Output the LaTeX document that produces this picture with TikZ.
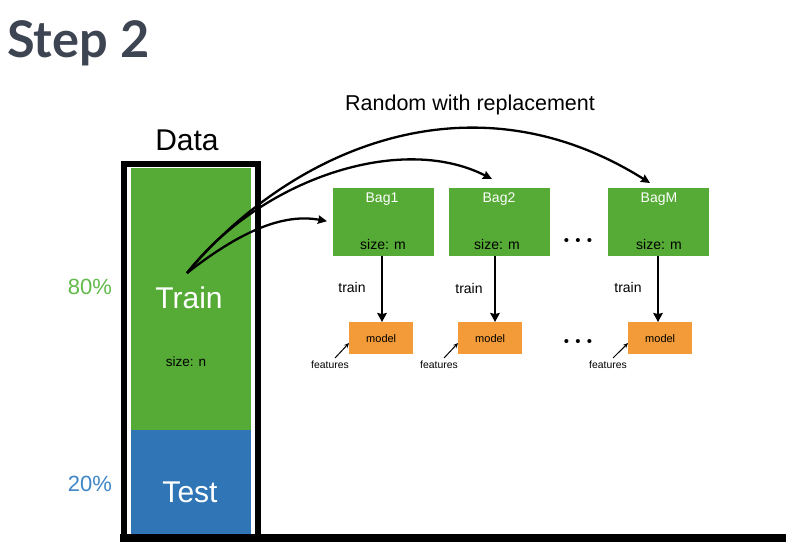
\documentclass[tikz,border=0pt]{standalone}
\usepackage{fontspec}
\setmainfont{Liberation Sans}
\newfontfamily\latofont{Lato}
\usetikzlibrary{arrows.meta,calc}
\definecolor{trgreen}{RGB}{85,171,53}
\definecolor{lightgreen}{RGB}{98,186,75}
\definecolor{tsblue}{RGB}{48,118,182}
\definecolor{pctblue}{RGB}{63,134,199}
\definecolor{mdorange}{RGB}{242,155,56}
\definecolor{titlegray}{RGB}{61,68,82}
\tikzset{
  fs/.style={font=\fontsize{#1}{#1}\selectfont},
  bagbox/.style={fill=trgreen, draw=none, minimum width=101pt, minimum height=68pt, inner sep=0pt, anchor=north west},
  modelbox/.style={fill=mdorange, draw=none, minimum width=64pt, minimum height=32pt, inner sep=0pt, anchor=north west, fs=11},
  bagtitle/.style={text=white, fs=14, inner sep=0pt},
  bagsize/.style={text=black, fs=14, inner sep=0pt},
  trainlbl/.style={fs=14, inner sep=0pt},
  featlbl/.style={fs=10.4, inner sep=0pt},
  bigarrow/.style={line width=2.3pt, -{Stealth[length=9pt,width=8.5pt,inset=1pt]}},
  vertarrow/.style={line width=2.6pt, -{Stealth[length=9pt,width=9.5pt,inset=1pt]}},
  featarrow/.style={line width=1pt, -{Stealth[length=5pt,width=4.5pt]}},
  dotsnode/.style={fs=15, inner sep=0pt},
}
\begin{document}
\begin{tikzpicture}[x=1pt,y=-1pt]
\useasboundingbox[fill=white] (0,0) rectangle (786,542);

% title
\node[anchor=base west, inner sep=0pt, text=titlegray, font=\latofont\bfseries\fontsize{50.5}{50.5}\selectfont] (title) at (7,57) {Step 2};

% data column
\node[fill=trgreen, minimum width=120pt, minimum height=262pt, inner sep=0pt, anchor=north west] (train) at (131,168) {};
\node[fill=tsblue, minimum width=120pt, minimum height=104pt, inner sep=0pt, anchor=north west] (test) at (131,430) {};
\draw[line width=6pt, line join=miter] (124,536) -- (124,164) -- (258,164) -- (258,536);

\node[fs=30, inner sep=0pt] (datalbl) at (187,140) {Data};
\node[text=white, fs=30, inner sep=0pt] (trainlbl) at (189,298) {Train};
\node[fs=13.5, inner sep=0pt] (sizen) at (186,362) {size: n};
\node[text=white, fs=30, inner sep=0pt] (testlbl) at (190,492) {Test};
\node[text=lightgreen, fs=22, inner sep=0pt] (p80) at (90,287) {80\%};
\node[text=pctblue, fs=22, inner sep=0pt] (p20) at (90,484) {20\%};
\coordinate (src) at (187,273);

% bags
\node[bagbox] (bag1) at (333,188) {};
\node[bagbox] (bag2) at (449,188) {};
\node[bagbox] (bagm) at (608,188) {};
\node[bagtitle] at (382,199) {Bag1};
\node[bagtitle] at (499,199) {Bag2};
\node[bagtitle] at (659,199) {BagM};
\node[bagsize] at (383,244) {size: m};
\node[bagsize] at (497,244) {size: m};
\node[bagsize] at (659,244) {size: m};
\node[dotsnode] (dots1) at (578,242) {•\hspace{6.3pt}•\hspace{6.3pt}•};

% models
\node[modelbox] (model1) at (349,322) {model};
\node[modelbox] (model2) at (458,322) {model};
\node[modelbox] (modelm) at (628,322) {model};
\node[dotsnode] (dots2) at (578,343) {•\hspace{6.3pt}•\hspace{6.3pt}•};

\node[trainlbl] (tr1) at (352,287) {train};
\node[trainlbl] (tr2) at (469,288) {train};
\node[trainlbl] (trm) at (628,287) {train};

\draw[vertarrow] (382,256) -- (model1.north -| 382,0);
\draw[vertarrow] (495,256) -- (model2.north -| 495,0);
\draw[vertarrow] (658,256) -- (modelm.north -| 658,0);

\node[featlbl] (f1) at (330,365) {features};
\node[featlbl] (f2) at (439,365) {features};
\node[featlbl] (fm) at (608,365) {features};
\draw[featarrow] (335,358) -- ($(model1.south west)!0.35!(model1.north west)$);
\draw[featarrow] (444,358) -- ($(model2.south west)!0.35!(model2.north west)$);
\draw[featarrow] (613,358) -- ($(modelm.south west)!0.35!(modelm.north west)$);

% random with replacement
\node[fs=21.5, inner sep=0pt] (rwr) at (470,105) {Random with replacement};
\draw[bigarrow] (src) .. controls (232,238) and (278,212) .. ($(bag1.west)+(-6,-1)$);
\draw[bigarrow] (src) .. controls (260,180) and (400,132) .. (492,179);
\draw[bigarrow] (src) .. controls (290,150) and (470,70) .. (650,183);

% bottom black band
\fill[black] (120,534) rectangle (786,542);
\end{tikzpicture}
\end{document}
